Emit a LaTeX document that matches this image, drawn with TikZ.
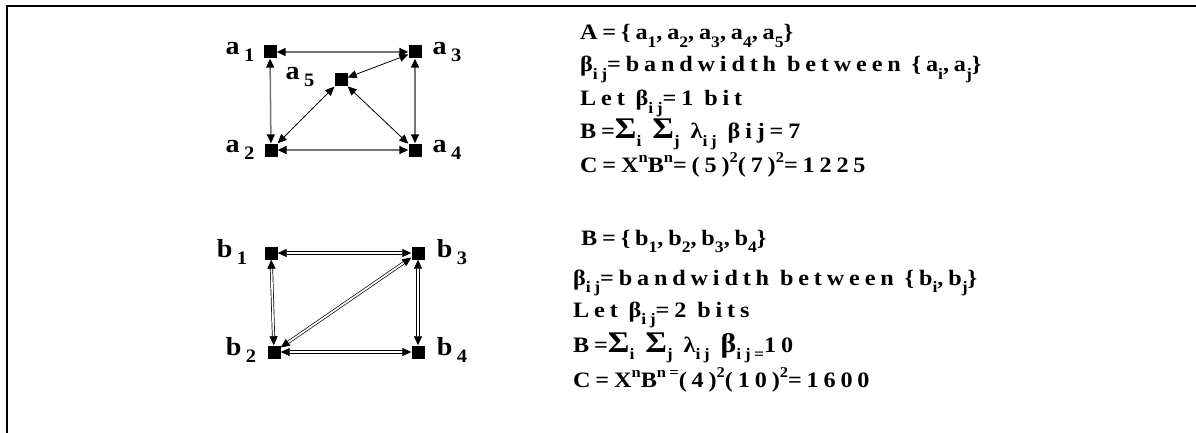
\documentclass[tikz,border=0pt]{standalone}
\usepackage{fontspec}
\setmainfont{Liberation Serif}
\usetikzlibrary{arrows.meta}
\newcommand\sbs[1]{\raisebox{-0.32em}{\fontsize{16}{16}\selectfont #1}}
\newcommand\sps[1]{\raisebox{0.42em}{\fontsize{15}{15}\selectfont #1}}
\newcommand\lsb[1]{\raisebox{-0.3em}{\fontsize{19}{19}\selectfont #1}}
\newcommand\bigsig{{\fontsize{30}{30}\selectfont Σ}}
\newcommand\bigbeta{{\fontsize{27}{27}\selectfont β}}
\tikzset{
  sq/.style={fill=black, minimum size=13pt, inner sep=0pt},
  lab/.style={inner sep=0pt, font=\fontsize{26}{26}\selectfont\bfseries\addfontfeatures{FakeStretch=1.08}},
  txt/.style={anchor=base west, inner sep=0pt, font=\fontsize{22}{24}\selectfont\bfseries\addfontfeatures{LetterSpace=22,FakeStretch=1.1}},
  tip/.tip={Triangle[length=9pt,width=8pt,color=black]},
  gedge/.style={draw=black!55, line width=1.5pt, tip-tip},
  tedge/.style={draw=black, line width=0.8pt, tip-tip},
  dedge/.style={draw=black, line width=0.7pt, double=white, double distance=1.7pt, tip-tip}
}
\begin{document}
\begin{tikzpicture}[x=1pt,y=-1pt]
\useasboundingbox (0,0) rectangle (1196,433);
\draw[line width=2pt] (7,433) -- (7,6) -- (1196,6);

% graph A
\node[sq] (a1) at (270,52) {};
\node[sq] (a3) at (415,52) {};
\node[sq] (a5) at (341,80) {};
\node[sq] (a2) at (271,150) {};
\node[sq] (a4) at (415,150) {};
\node[lab] (la1) at (240,52) {a\,\lsb{1}};
\node[lab] (la3) at (447,52) {a\,\lsb{3}};
\node[lab] (la5) at (300,77) {a\,\lsb{5}};
\node[lab] (la2) at (240,150) {a\,\lsb{2}};
\node[lab] (la4) at (447,150) {a\,\lsb{4}};
\draw[gedge] (a1) -- (a3);
\draw[gedge] (a2) -- (a4);
\draw[gedge] (a1) -- (a2);
\draw[gedge] (a3) -- (a4);
\draw[tedge] (a5) -- (a3);
\draw[tedge] (a5) -- (a2);
\draw[tedge] (a5) -- (a4);

% graph B
\node[sq] (b1) at (271,253) {};
\node[sq] (b3) at (418,253) {};
\node[sq] (b2) at (274,352) {};
\node[sq] (b4) at (418,352) {};
\node[lab] (lb1) at (232,252) {b\,\lsb{1}};
\node[lab] (lb3) at (452,252) {b\,\lsb{3}};
\node[lab] (lb2) at (241,350) {b\,\lsb{2}};
\node[lab] (lb4) at (452,350) {b\,\lsb{4}};
\draw[dedge] (b1) -- (b3);
\draw[dedge] (b2) -- (b4);
\draw[dedge] (b1) -- (b2);
\draw[dedge] (b3) -- (b4);
\draw[dedge] (b2) -- (b3);

% text A
\node[txt] (ta1) at (580,40) {A=\{a\sbs{1},a\sbs{2},a\sbs{3},a\sbs{4},a\sbs{5}\}};
\node[txt] (ta2) at (580,72) {β\sbs{ij}=bandwidth between \{a\sbs{i},a\sbs{j}\}};
\node[txt] (ta3) at (580,106) {Let β\sbs{ij}=1 bit};
\node[txt] (ta4) at (580,139) {B=\bigsig\sbs{i} \bigsig\sbs{j} λ\sbs{ij} βij=7};
\node[txt] (ta5) at (580,172) {C=X\sps{n}B\sps{n}=(5)\sps{2}(7)\sps{2}=1225};

% text B
\node[txt] (tb1) at (581,245) {B=\{b\sbs{1},b\sbs{2},b\sbs{3},b\sbs{4}\}};
\node[txt] (tb2) at (573,285) {β\sbs{ij}=bandwidth between \{b\sbs{i},b\sbs{j}\}};
\node[txt] (tb3) at (573,317) {Let β\sbs{ij}=2 bits};
\node[txt] (tb4) at (573,352) {B=\bigsig\sbs{i} \bigsig\sbs{j} λ\sbs{ij} \bigbeta\sbs{ij=}10};
\node[txt] (tb5) at (573,387) {C=X\sps{n}B\sps{n=}(4)\sps{2}(10)\sps{2}=1600};
\end{tikzpicture}
\end{document}
